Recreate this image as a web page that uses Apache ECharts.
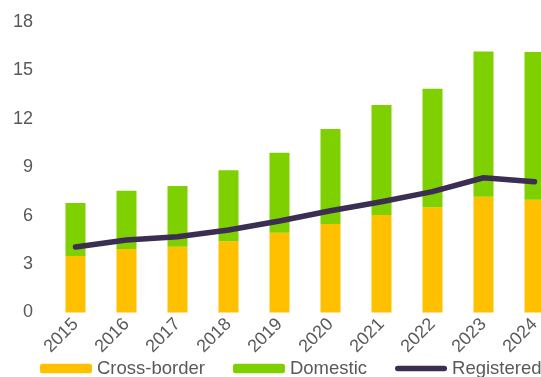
<!DOCTYPE html>
<html>
<head>
<meta charset="utf-8">
<script src="https://cdn.jsdelivr.net/npm/echarts@6/dist/echarts.min.js"></script>
<style>
  html, body { margin: 0; padding: 0; background: #ffffff; }
  #chart { width: 541px; height: 377px; }
</style>
</head>
<body>
<div id="chart"></div>
<script>
// Yearly values (stacked bars + line)
const years = ['2015', '2016', '2017', '2018', '2019', '2020', '2021', '2022', '2023', '2024'];
const crossBorder = [3.50, 3.93, 4.07, 4.41, 4.94, 5.48, 6.03, 6.51, 7.17, 6.98];
const domestic = [3.28, 3.61, 3.76, 4.39, 4.95, 5.88, 6.81, 7.34, 8.99, 9.14];
const registered = [4.05, 4.49, 4.69, 5.11, 5.66, 6.30, 6.86, 7.48, 8.34, 8.09];
const yTicks = { min: 0, max: 18, step: 3 };

const FONT = "'Liberation Sans', Arial, sans-serif";
const GREY = '#595959';
const LINE_COLOR = '#3c2e52';

// Thick rounded stroke for the line entry in the legend (padded to the legend box height)
const LINE_ICON = 'path://M0,0L0,0M0,9.5L0,9.5M2.75,2h46.5a2.75,2.75 0 0 1 0,5.5h-46.5a2.75,2.75 0 0 1 0,-5.5z';

const chart = echarts.init(document.getElementById('chart'), null, { renderer: 'canvas' });

chart.setOption({
  animation: false,
  textStyle: { fontFamily: FONT },
  grid: {
    left: 50, top: 21.7, width: 510, height: 290.8,
    containLabel: false,
    outerBoundsMode: 'none'
  },
  legend: {
    left: 35,
    top: 354,
    width: 700,
    itemWidth: 52,
    itemHeight: 9.5,
    itemGap: 28,
    textStyle: { fontFamily: FONT, fontSize: 18.5, color: GREY },
    data: [
      { name: 'Cross-border' },
      { name: 'Domestic' },
      { name: 'Registered', icon: LINE_ICON }
    ]
  },
  xAxis: {
    type: 'category',
    data: years,
    axisLine: { show: false },
    axisTick: { show: false },
    axisLabel: { rotate: 45, margin: 9, fontSize: 18, color: GREY, fontFamily: FONT }
  },
  yAxis: {
    type: 'value',
    min: yTicks.min,
    max: yTicks.max,
    interval: yTicks.step,
    splitLine: { show: false },
    axisLine: { show: false },
    axisTick: { show: false },
    axisLabel: { margin: 17, fontSize: 18, color: GREY, fontFamily: FONT }
  },
  series: [
    {
      name: 'Cross-border',
      type: 'bar',
      stack: 'total',
      barWidth: 20,
      itemStyle: { color: '#ffc000' },
      data: crossBorder
    },
    {
      name: 'Domestic',
      type: 'bar',
      stack: 'total',
      barWidth: 20,
      itemStyle: { color: '#7ed000' },
      data: domestic
    },
    {
      name: 'Registered',
      type: 'line',
      symbol: 'none',
      z: 5,
      itemStyle: { color: LINE_COLOR },
      lineStyle: { color: LINE_COLOR, width: 5.5, cap: 'round', join: 'round' },
      data: registered
    }
  ]
});
</script>
</body>
</html>
